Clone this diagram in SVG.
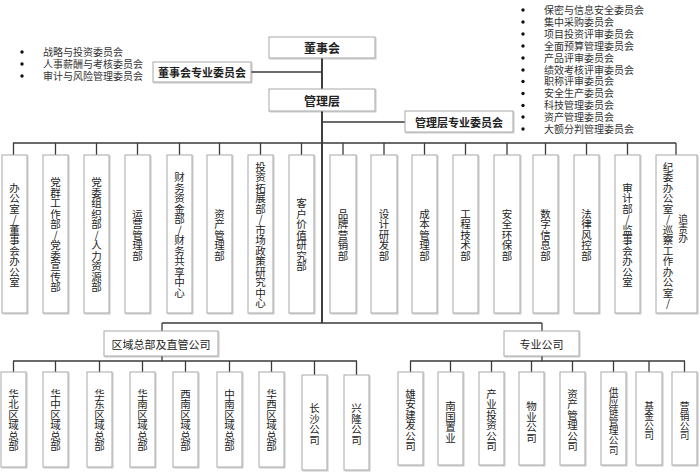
<svg xmlns="http://www.w3.org/2000/svg" width="700" height="473" viewBox="0 0 700 473">
<defs>
<filter id="sh" x="-30%" y="-30%" width="160%" height="160%">
<feDropShadow dx="1" dy="1" stdDeviation="0.6" flood-color="#000" flood-opacity="0.22"/>
</filter>
<style>
.box{fill:#fff;stroke:#a8a8a8;stroke-width:1;filter:url(#sh)}
.ln{stroke:#3a3a3a;stroke-width:1.3;fill:none}
.main{stroke:#2a2a2a;stroke-width:1.8;fill:none}
.t{font-family:"Noto Sans CJK SC","Liberation Sans",sans-serif;fill:#222}
.b{font-weight:700;text-anchor:middle;dominant-baseline:central;font-size:12px}
.b2{font-weight:700;text-anchor:middle;dominant-baseline:central;font-size:11px}
.h{text-anchor:middle;dominant-baseline:central;font-size:11px}
.v{writing-mode:vertical-rl;text-orientation:upright;text-anchor:middle;font-size:10.5px}
.vs{writing-mode:vertical-rl;text-orientation:upright;text-anchor:middle;font-size:9.7px}
.li{font-family:"Liberation Sans","Noto Sans CJK SC",sans-serif;font-size:10px;fill:#333}
.dot{fill:#111}
</style>
</defs>

<g id="connectors">
<line class="main" x1="322" y1="58" x2="322" y2="89"/>
<line class="main" x1="322" y1="111" x2="322" y2="323"/>
<line class="ln" x1="251" y1="72" x2="322" y2="72"/>
<line class="ln" x1="322" y1="122" x2="405" y2="122"/>
<line class="ln" x1="13" y1="143" x2="676" y2="143"/>
<path class="ln" d="M13.5 143V155M55.5 143V155M96.5 143V155M137.5 143V155M179.5 143V155M219.5 143V155M260.5 143V155M301.5 143V155M343 143V155M384 143V155M424.5 143V155M465.5 143V155M507 143V155M545.5 143V155M586.5 143V155M627.5 143V155M676 143V155"/>
<path class="ln" d="M162 323H542M162 323V331M542 323V331"/>
<path class="ln" d="M162 356V361M13 361H357M13.5 361V372M55.5 361V372M99.5 361V372M142.5 361V372M185.5 361V372M229.5 361V372M271.5 361V372M314.5 361V375M356.5 361V375"/>
<path class="ln" d="M542 356V361M410 361H685M410.5 361V372M450.5 361V372M491.5 361V372M531.5 361V372M572.5 361V372M613.5 361V372M649 361V372M684.5 361V372"/>
</g>

<g id="board-list">
<circle class="dot" cx="22" cy="52" r="1.7"/>
<circle class="dot" cx="22" cy="64" r="1.7"/>
<circle class="dot" cx="22" cy="76" r="1.7"/>
<text class="li"><tspan x="43" y="55.5">战略与投资委员会</tspan><tspan x="43" y="67.5">人事薪酬与考核委员会</tspan><tspan x="43" y="79.5">审计与风险管理委员会</tspan></text>
</g>

<g id="mgmt-list">
<circle class="dot" cx="523" cy="10" r="1.7"/>
<circle class="dot" cx="523" cy="22" r="1.7"/>
<circle class="dot" cx="523" cy="34" r="1.7"/>
<circle class="dot" cx="523" cy="46" r="1.7"/>
<circle class="dot" cx="523" cy="58" r="1.7"/>
<circle class="dot" cx="523" cy="70" r="1.7"/>
<circle class="dot" cx="523" cy="81.5" r="1.7"/>
<circle class="dot" cx="523" cy="93.5" r="1.7"/>
<circle class="dot" cx="523" cy="105.5" r="1.7"/>
<circle class="dot" cx="523" cy="117" r="1.7"/>
<circle class="dot" cx="523" cy="129" r="1.7"/>
<text class="li"><tspan x="544" y="13.5">保密与信息安全委员会</tspan><tspan x="544" y="25.5">集中采购委员会</tspan><tspan x="544" y="37.5">项目投资评审委员会</tspan><tspan x="544" y="49.5">全面预算管理委员会</tspan><tspan x="544" y="61.5">产品评审委员会</tspan><tspan x="544" y="73.5">绩效考核评审委员会</tspan><tspan x="544" y="85">职称评审委员会</tspan><tspan x="544" y="97">安全生产委员会</tspan><tspan x="544" y="109">科技管理委员会</tspan><tspan x="544" y="120.5">资产管理委员会</tspan><tspan x="544" y="132.5">大额分判管理委员会</tspan></text>
</g>

<g id="board"><rect class="box" x="269" y="37" width="106" height="21"/><text class="t b" x="322" y="47.5">董事会</text></g>
<g id="board-committee"><rect class="box" x="153" y="62" width="98" height="20"/><text class="t b2" x="202" y="72">董事会专业委员会</text></g>
<g id="management"><rect class="box" x="269" y="89" width="106" height="22"/><text class="t b" x="322" y="100">管理层</text></g>
<g id="mgmt-committee"><rect class="box" x="405" y="111" width="108" height="21"/><text class="t b2" x="459" y="121.5">管理层专业委员会</text></g>

<g id="d1"><rect class="box" x="2" y="155" width="25" height="158"/><text class="t v" x="14.5" y="235">办公室/董事会办公室</text></g>
<g id="d2"><rect class="box" x="43" y="155" width="25" height="158"/><text class="t v" x="55.5" y="235">党群工作部/党委宣传部</text></g>
<g id="d3"><rect class="box" x="84" y="155" width="25" height="158"/><text class="t v" x="96.5" y="235">党委组织部/人力资源部</text></g>
<g id="d4"><rect class="box" x="125" y="155" width="25" height="158"/><text class="t v" x="137.5" y="235">运营管理部</text></g>
<g id="d5"><rect class="box" x="167" y="155" width="25" height="158"/><text class="t v" x="179.5" y="235">财务资金部/财务共享中心</text></g>
<g id="d6"><rect class="box" x="207" y="155" width="25" height="158"/><text class="t v" x="219.5" y="235">资产管理部</text></g>
<g id="d7"><rect class="box" x="248" y="155" width="25" height="158"/><text class="t v" x="260.5" y="235">投资拓展部/市场政策研究中心</text></g>
<g id="d8"><rect class="box" x="289" y="155" width="25" height="158"/><text class="t v" x="301.5" y="235">客户价值研究部</text></g>
<g id="d9"><rect class="box" x="330" y="155" width="26" height="158"/><text class="t v" x="343" y="235">品牌营销部</text></g>
<g id="d10"><rect class="box" x="371" y="155" width="26" height="158"/><text class="t v" x="384" y="235">设计研发部</text></g>
<g id="d11"><rect class="box" x="412" y="155" width="25" height="158"/><text class="t v" x="424.5" y="235">成本管理部</text></g>
<g id="d12"><rect class="box" x="453" y="155" width="25" height="158"/><text class="t v" x="465.5" y="235">工程技术部</text></g>
<g id="d13"><rect class="box" x="494" y="155" width="26" height="158"/><text class="t v" x="507" y="235">安全环保部</text></g>
<g id="d14"><rect class="box" x="533" y="155" width="25" height="158"/><text class="t v" x="545.5" y="235">数字信息部</text></g>
<g id="d15"><rect class="box" x="574" y="155" width="25" height="158"/><text class="t v" x="586.5" y="235">法律风控部</text></g>
<g id="d16"><rect class="box" x="615" y="155" width="25" height="158"/><text class="t v" x="627.5" y="235">审计部/监事会办公室</text></g>
<g id="d17"><rect class="box" x="656" y="155" width="41" height="158"/><text class="t v" x="668" y="235">纪委办公室/巡察工作办公室/</text><text class="t vs" x="683" y="229">追责办</text></g>

<g id="regional"><rect class="box" x="104" y="331" width="114" height="25"/><text class="t h" x="161" y="343.5">区域总部及直管公司</text></g>
<g id="professional"><rect class="box" x="504" y="331" width="75" height="25"/><text class="t h" x="541.5" y="343.5">专业公司</text></g>

<g id="r1"><rect class="box" x="1" y="372" width="25" height="95"/><text class="t v" x="13.5" y="420">华北区域总部</text></g>
<g id="r2"><rect class="box" x="43" y="372" width="25" height="95"/><text class="t v" x="55.5" y="420">华中区域总部</text></g>
<g id="r3"><rect class="box" x="87" y="372" width="25" height="95"/><text class="t v" x="99.5" y="420">华东区域总部</text></g>
<g id="r4"><rect class="box" x="130" y="372" width="25" height="95"/><text class="t v" x="142.5" y="420">华南区域总部</text></g>
<g id="r5"><rect class="box" x="173" y="372" width="25" height="95"/><text class="t v" x="185.5" y="420">西南区域总部</text></g>
<g id="r6"><rect class="box" x="217" y="372" width="25" height="95"/><text class="t v" x="229.5" y="420">中南区域总部</text></g>
<g id="r7"><rect class="box" x="259" y="372" width="25" height="95"/><text class="t v" x="271.5" y="420">华西区域总部</text></g>
<g id="r8"><rect class="box" x="302" y="375" width="25" height="95"/><text class="t v" x="314.5" y="424">长沙公司</text></g>
<g id="r9"><rect class="box" x="344" y="375" width="25" height="95"/><text class="t v" x="356.5" y="424">兴隆公司</text></g>

<g id="p1"><rect class="box" x="398" y="372" width="25" height="93"/><text class="t v" x="410.5" y="420">雄安建发公司</text></g>
<g id="p2"><rect class="box" x="438" y="372" width="25" height="93"/><text class="t v" x="450.5" y="422">南国置业</text></g>
<g id="p3"><rect class="box" x="479" y="372" width="25" height="93"/><text class="t v" x="491.5" y="420">产业投资公司</text></g>
<g id="p4"><rect class="box" x="519" y="372" width="25" height="93"/><text class="t v" x="531.5" y="422">物业公司</text></g>
<g id="p5"><rect class="box" x="560" y="372" width="25" height="93"/><text class="t v" x="572.5" y="420">资产管理公司</text></g>
<g id="p6"><rect class="box" x="601" y="372" width="25" height="93"/><text class="t vs" x="613.5" y="421">供应链管理公司</text></g>
<g id="p7"><rect class="box" x="636" y="372" width="26" height="93"/><text class="t vs" x="649" y="421">基金公司</text></g>
<g id="p8"><rect class="box" x="672" y="372" width="25" height="93"/><text class="t vs" x="684.5" y="421">营销公司</text></g>
</svg>
